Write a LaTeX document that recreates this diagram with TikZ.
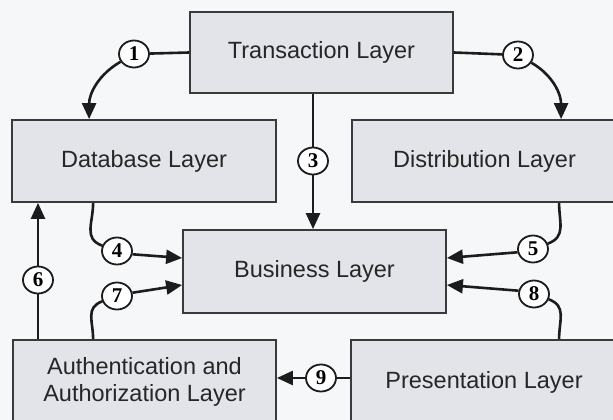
\documentclass[tikz,border=0pt]{standalone}
\usepackage{fontspec}
\setmainfont{Liberation Sans}
\newfontfamily\numfont{Liberation Serif}
\usetikzlibrary{arrows.meta,shapes.geometric,calc}
\definecolor{bgcol}{HTML}{F6F7F9}
\definecolor{boxfill}{HTML}{E3E4EA}
\definecolor{boxline}{HTML}{3A3A3A}
\definecolor{linecol}{HTML}{1C1C1C}
\tikzset{
  box/.style={draw=boxline, line width=1.8pt, fill=boxfill, align=center, inner sep=0pt,
    font=\fontsize{23.5}{27}\selectfont, text=black!85},
  num/.style={ellipse, draw=linecol, line width=1.8pt, fill=white, minimum width=30pt,
    minimum height=27pt, inner sep=0pt, font=\numfont\bfseries\fontsize{21}{21}\selectfont},
  conn/.style={line width=2.6pt, draw=linecol},
  arr/.style={conn, -{Triangle[length=16pt,width=14pt]}},
}
\begin{document}
\begin{tikzpicture}[x=1pt,y=1pt]
\useasboundingbox (0,0) rectangle (613,-420);
\clip (0,0) rectangle (613,-420);
\fill[bgcol] (0,0) rectangle (613,-420);

\node[box, minimum width=263pt, minimum height=81pt] (T) at (321.5,-52.5) {Transaction Layer};
\node[box, minimum width=264pt, minimum height=82pt] (D) at (144,-161) {Database Layer};
\node[box, minimum width=265pt, minimum height=82pt] (Dist) at (484.5,-161) {Distribution Layer};
\node[box, minimum width=263pt, minimum height=83pt] (B) at (314.5,-271.5) {Business Layer};
\node[box, minimum width=263pt, minimum height=84pt] (A) at (144.5,-382) {Authentication and\\Authorization Layer};
\node[box, minimum width=266pt, minimum height=84pt] (P) at (484,-382) {Presentation Layer};

\node[num] (c1) at (134,-54) {1};
\node[num] (c2) at (518,-55) {2};
\node[num] (c3) at (313,-161) {3};
\node[num] (c4) at (117,-251) {4};
\node[num] (c5) at (533,-249) {5};
\node[num] (c6) at (38,-280) {6};
\node[num] (c7) at (117,-296) {7};
\node[num] (c8) at (534,-294) {8};
\node[num] (c9) at (321,-378) {9};

\coordinate (d1) at ($(D.north west)+(78,0)$);
\coordinate (x2) at ($(Dist.north west)+(210,0)$);
\coordinate (d4) at ($(D.south west)+(82,0)$);
\coordinate (a7) at ($(A.north west)+(81,0)$);
\coordinate (x5) at ($(Dist.south west)+(208,0)$);
\coordinate (x8) at ($(P.north west)+(209,0)$);
\coordinate (b4) at ($(B.west)+(0,13.5)$);
\coordinate (b7) at ($(B.west)+(0,-13.5)$);
\coordinate (b5) at ($(B.east)+(0,13.5)$);
\coordinate (b8) at ($(B.east)+(0,-13.5)$);

% 1
\draw[conn] (T.west) -- (c1);
\draw[arr] (c1) to[out=210,in=90] (d1);
% 2
\draw[conn] (T.east) -- (c2);
\draw[arr] (c2) to[out=-30,in=90] (x2);
% 3
\draw[conn] (T.south -| c3) -- (c3);
\draw[arr] (c3) -- (B.north -| c3);
% 4
\draw[conn] (d4) to[out=-90,in=160,looseness=1.2] (c4);
\draw[arr] (c4.-12) -- (b4);
% 5
\draw[conn] (x5) to[out=-90,in=20,looseness=1.2] (c5);
\draw[arr] (c5.192) -- (b5);
% 6
\draw[conn] (A.north -| c6) -- (c6);
\draw[arr] (c6) -- (D.south -| c6);
% 7
\draw[conn] (a7) to[out=90,in=200,looseness=1.2] (c7);
\draw[arr] (c7.12) -- (b7);
% 8
\draw[conn] (x8) to[out=90,in=-20,looseness=1.2] (c8);
\draw[arr] (c8.168) -- (b8);
% 9
\draw[conn] (P.west |- c9) -- (c9);
\draw[arr] (c9) -- (A.east |- c9);
\end{tikzpicture}
\end{document}
